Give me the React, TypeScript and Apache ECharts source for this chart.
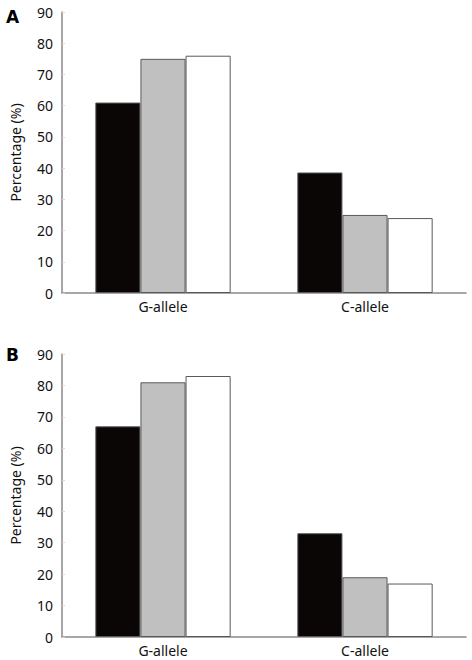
import React, { useEffect, useRef } from "react";
import * as echarts from "echarts";

const categories = ["G-allele", "C-allele"];
const panelLabels = ["A", "B"];
const yTicks = { min: 0, max: 90, interval: 10 };
const yAxisName = "Percentage (%)";

// Panel A
const aBlack = [61, 38.6];
const aGray = [75, 25];
const aWhite = [76, 24];
// Panel B
const bBlack = [67, 33];
const bGray = [81, 19];
const bWhite = [83, 17];

const FONT = "Noto Sans";

export default function App() {
  const ref = useRef<HTMLDivElement>(null);
  useEffect(() => {
    if (!ref.current) return;
    const chart = echarts.init(ref.current, null, { renderer: "svg" });
    const grids = [
      { left: 59, top: 12, right: 6, height: 281 },
      { left: 59, top: 354, right: 6, height: 283 },
    ];
    const xAxis = grids.map((_, i) => ({
      type: "category",
      gridIndex: i,
      data: categories,
      axisLine: { lineStyle: { color: "#8a8a8a", width: 1.5 } },
      axisTick: { show: false },
      axisLabel: { color: "#111", fontFamily: FONT, fontSize: 14, margin: 6 },
    }));
    const yAxis = grids.map((_, i) => ({
      type: "value",
      gridIndex: i,
      min: yTicks.min,
      max: yTicks.max,
      interval: yTicks.interval,
      name: yAxisName,
      nameLocation: "middle",
      nameRotate: 90,
      nameGap: 40,
      nameTextStyle: { color: "#111", fontFamily: FONT, fontSize: 14 },
      axisLine: { show: true, lineStyle: { color: "#8a8a8a", width: 1.5 } },
      axisTick: { show: true, inside: true, length: 3, lineStyle: { color: "#d8d8d8" } },
      splitLine: { show: false },
      axisLabel: { color: "#111", fontFamily: FONT, fontSize: 14, margin: 9 },
    }));
    const mk = (data: number[], color: string, idx: number) => ({
      type: "bar",
      xAxisIndex: idx,
      yAxisIndex: idx,
      data,
      barGap: "0%",
      barCategoryGap: "33%",
      itemStyle: { color, borderColor: "#5a5a5a", borderWidth: 1 },
    });
    const series = [
      mk(aBlack, "#0a0605", 0),
      mk(aGray, "#c0c0c0", 0),
      mk(aWhite, "#ffffff", 0),
      mk(bBlack, "#0a0605", 1),
      mk(bGray, "#c0c0c0", 1),
      mk(bWhite, "#ffffff", 1),
    ];
    chart.setOption({
      animation: false,
      backgroundColor: "#ffffff",
      grid: grids,
      xAxis,
      yAxis,
      series,
      graphic: [
        {
          type: "text",
          left: 6,
          top: 8,
          style: { text: panelLabels[0], font: `bold 17px "DejaVu Sans"`, fill: "#000" },
        },
        {
          type: "text",
          left: 6,
          top: 346,
          style: { text: panelLabels[1], font: `bold 17px "DejaVu Sans"`, fill: "#000" },
        },
      ],
    });
    return () => chart.dispose();
  }, []);
  return <div ref={ref} style={{ width: 472, height: 660, position: "absolute", left: 0, top: 0 }} />;
}
